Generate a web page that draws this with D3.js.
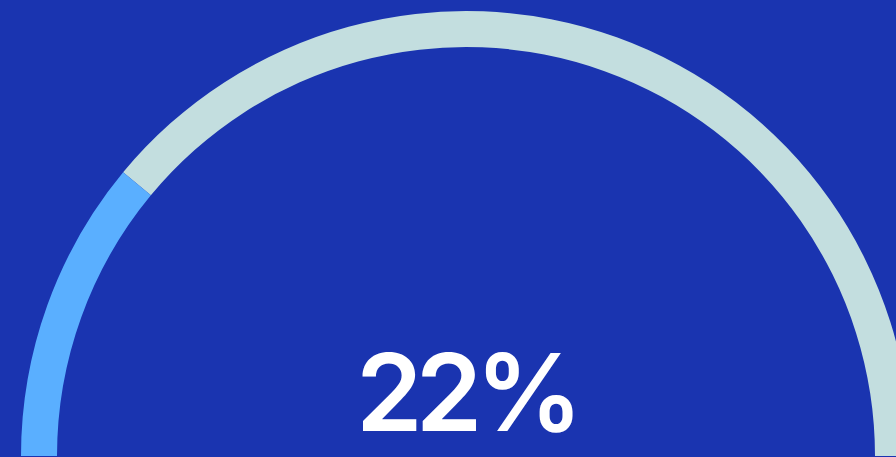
<!DOCTYPE html>
<html>
<head>
<meta charset="utf-8">
<script src="https://cdn.jsdelivr.net/npm/d3@7"></script>
<style>
  html, body { margin: 0; padding: 0; background: #1a34b0; overflow: hidden; }
  svg { display: block; }
</style>
</head>
<body>
<svg id="chart" width="896" height="457"></svg>
<script>
// Gauge reading, in percent
const gaugeValue = [22];
const gaugeDomain = [0, 100];

const width = 896, height = 457;
const cx = 466, cy = 456;
const outerR = 445, innerR = 409;

const svg = d3.select("#chart");
svg.append("rect").attr("width", width).attr("height", height).attr("fill", "#1a34b0");

// Percent -> angle along the upper half circle (left to right)
const angle = d3.scaleLinear().domain(gaugeDomain).range([-Math.PI / 2, Math.PI / 2]);

const arc = d3.arc().innerRadius(innerR).outerRadius(outerR);

const g = svg.append("g").attr("transform", `translate(${cx},${cy})`);

// Track (remaining portion)
g.append("path")
  .attr("d", arc({ startAngle: angle(gaugeValue[0]), endAngle: angle(gaugeDomain[1]) }))
  .attr("fill", "#c3dedf");

// Filled portion
g.append("path")
  .attr("d", arc({ startAngle: angle(gaugeDomain[0]), endAngle: angle(gaugeValue[0]) }))
  .attr("fill", "#5aafff");

// Value label, centred under the gauge
svg.append("text")
  .attr("x", cx)
  .attr("y", 431)
  .attr("text-anchor", "middle")
  .attr("fill", "#ffffff")
  .attr("font-family", "Inter, 'Noto Sans', sans-serif")
  .attr("font-weight", 600)
  .attr("font-size", 107)
  .attr("letter-spacing", "-7px")
  .text(`${gaugeValue[0]}%`);
</script>
</body>
</html>
